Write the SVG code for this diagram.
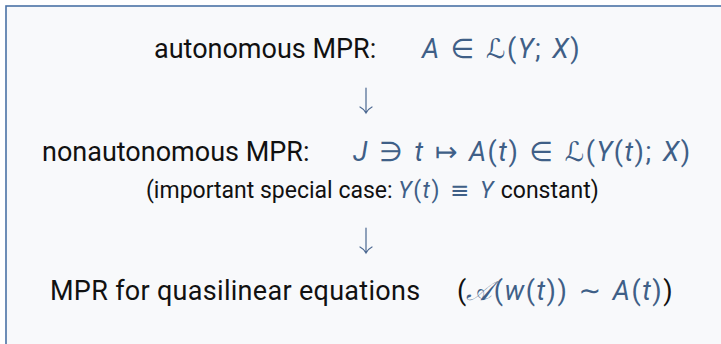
<svg xmlns="http://www.w3.org/2000/svg" width="721" height="344" viewBox="0 0 721 344">
<style>
.txt{font-family:Roboto,"DejaVu Sans",sans-serif;fill:#111;}
.big{font-size:27px;}
.small{font-size:23px;}
.m{fill:#3f5f87;letter-spacing:1.5px;word-spacing:2px;}
.i{font-style:italic;}
.arr{stroke:#4a6790;stroke-width:1.2;fill:none;stroke-linecap:round;}
</style>
<rect x="0" y="0" width="721" height="344" fill="#ffffff"/>
<rect x="6" y="6" width="760" height="380" fill="#f8f9fb" stroke="#4a72a6" stroke-width="1.6"/>
<g id="autonomous">
<text class="txt big" x="154" y="58">autonomous MPR:</text>
<text class="txt big m" x="422" y="58"><tspan class="i">A</tspan> ∈ ℒ(<tspan class="i">Y</tspan>; <tspan class="i">X</tspan>)</text>
</g>
<g id="nonautonomous">
<text class="txt big" x="42" y="161">nonautonomous MPR:</text>
<text class="txt big m" x="353" y="161"><tspan class="i">J</tspan> ∋ <tspan class="i">t</tspan> ↦ <tspan class="i">A</tspan>(<tspan class="i">t</tspan>) ∈ ℒ(<tspan class="i">Y</tspan>(<tspan class="i">t</tspan>); <tspan class="i">X</tspan>)</text>
<text class="txt small" x="146" y="198">(important special case: <tspan class="m"><tspan class="i">Y</tspan>(<tspan class="i">t</tspan>) ≡ <tspan class="i">Y</tspan></tspan> constant)</text>
</g>
<g id="quasilinear">
<text class="txt big" x="50" y="300" letter-spacing="0.3">MPR for quasilinear equations</text>
<text class="txt big" x="457" y="300">(<tspan class="m"><tspan class="i">𝒜</tspan>(<tspan class="i">w</tspan>(<tspan class="i">t</tspan>)) ∼ <tspan class="i">A</tspan>(<tspan class="i">t</tspan>)</tspan>)</text>
</g>
<g id="connectors">
<path class="arr" d="M366 88 V113 M360 107 Q364 109 366 113 Q368 109 372 107"/>
<path class="arr" d="M366 228 V253 M360 247 Q364 249 366 253 Q368 249 372 247"/>
</g>
</svg>
